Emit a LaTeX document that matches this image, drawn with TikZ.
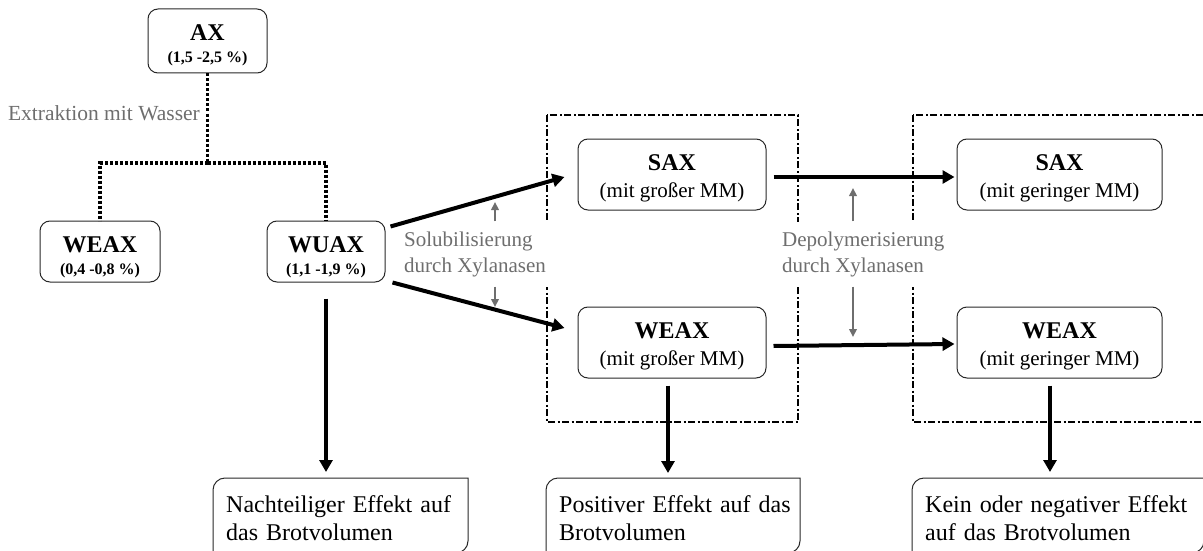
\documentclass[tikz,border=0pt]{standalone}
\usepackage{fontspec}
\setmainfont{Liberation Serif}
\usetikzlibrary{arrows.meta}
\definecolor{lblgray}{RGB}{110,110,110}
\definecolor{bord}{RGB}{40,40,40}
\newcommand{\rdcbox}[4]{% left, top, right, bottom
  \draw[bline] (#1,#4) -- (#1,#2+12) .. controls (#1,#2+5.4) and (#1+5.4,#2) .. (#1+12,#2)
    -- (#3,#2) -- (#3,#4-12) .. controls (#3,#4-5.4) and (#3-5.4,#4) .. (#3-12,#4) -- cycle;}
\begin{document}
\begin{tikzpicture}[x=1pt,y=-1pt,
  box/.style={draw=bord, line width=1pt, rounded corners=10pt, inner sep=0pt, align=center},
  bline/.style={draw=bord, line width=1pt},
  bigarrow/.style={line width=4pt, -{Triangle[length=12pt,width=13pt]}},
  smallarrow/.style={draw=lblgray, line width=2pt, -{Triangle[length=8pt,width=7.5pt]}},
  dotline/.style={line width=3.4pt, dash pattern=on 3pt off 2pt},
  grp/.style={line width=1.4pt, dash pattern=on 7pt off 2.5pt on 2pt off 2.5pt},
  graylbl/.style={text=lblgray, font=\fontsize{21pt}{26pt}\selectfont, fill=white, inner xsep=3pt, inner ysep=0pt, align=left},
  midbox/.style={box, minimum height=71pt, font=\fontsize{21pt}{27pt}\selectfont},
  smallbox/.style={box, font=\fontsize{16pt}{22pt}\selectfont\bfseries},
  effbox/.style={anchor=north west, inner xsep=13pt, inner ysep=0pt, minimum height=79pt, align=left, font=\fontsize{24pt}{28pt}\selectfont},
]
\useasboundingbox (0,0) rectangle (1203,551);
\clip (0,0) rectangle (1203,551);

% group frames
\draw[grp] (547,115) rectangle (798,422);
\draw[grp] (913,115) rectangle (1220,422);

% labels (white background breaks the frames)
\node[graylbl, anchor=west, minimum height=65pt] (sol) at (401,254) {Solubilisierung\\durch Xylanasen};
\node[graylbl, anchor=west, minimum height=65pt] (dep) at (779,254) {Depolymerisierung\\durch Xylanasen};

% top boxes
\node[smallbox, minimum width=119pt, minimum height=64pt] (AX) at (207.5,41) {\rule{0pt}{25pt}{\fontsize{24pt}{22pt}\selectfont AX}\\(1,5 -2,5 \%)};
\node[smallbox, minimum width=120pt, minimum height=61pt] (WEAX) at (100,251.5) {\rule{0pt}{28pt}{\fontsize{24pt}{22pt}\selectfont WEAX}\\(0,4 -0,8 \%)};
\node[smallbox, minimum width=118pt, minimum height=61pt] (WUAX) at (326,251.5) {\rule{0pt}{28pt}{\fontsize{24pt}{22pt}\selectfont WUAX}\\(1,1 -1,9 \%)};

% middle boxes
\node[midbox, minimum width=188pt] (SAXm) at (672,174.5) {\rule{0pt}{24pt}{\fontsize{24pt}{27pt}\selectfont\bfseries SAX}\\(mit großer MM)};
\node[midbox, minimum width=188pt] (WEAXm) at (672,342.5) {\rule{0pt}{24pt}{\fontsize{24pt}{27pt}\selectfont\bfseries WEAX}\\(mit großer MM)};
\node[midbox, minimum width=205pt] (SAXr) at (1059.5,174.5) {\rule{0pt}{24pt}{\fontsize{24pt}{27pt}\selectfont\bfseries SAX}\\(mit geringer MM)};
\node[midbox, minimum width=205pt] (WEAXr) at (1059.5,342.5) {\rule{0pt}{24pt}{\fontsize{24pt}{27pt}\selectfont\bfseries WEAX}\\(mit geringer MM)};

% effect boxes
\rdcbox{213}{478}{468}{553}
\rdcbox{546}{478}{800}{553}
\rdcbox{912}{478}{1204}{553}
\node[effbox, text width=240pt] (Nb) at (213,478) {Nachteiliger Effekt auf\\das Brotvolumen};
\node[effbox, text width=240pt] (Pb) at (546,478) {Positiver Effekt auf das\\Brotvolumen};
\node[effbox, text width=270pt] (Kb) at (912,478) {Kein oder negativer Effekt\\auf das Brotvolumen};

% extraction
\coordinate (split) at (207.5,163);
\draw[dotline] (AX.south) -- (split);
\draw[dotline] (split) -| (WEAX.north);
\draw[dotline] (split) -| (WUAX.north);
\node[text=lblgray, font=\fontsize{21.5pt}{24pt}\selectfont, anchor=east, inner sep=0pt] (ext) at (200,113) {Extraktion mit Wasser};

% solubilisation arrows
\draw[bigarrow] ([xshift=5pt,yshift=-6pt]WUAX.north east) -- ([xshift=-13pt,yshift=-2.5pt]SAXm.west);
\draw[bigarrow] ([xshift=7pt]WUAX.south east) -- ([xshift=-13pt,yshift=14.5pt]WEAXm.west);

% depolymerisation arrows
\draw[bigarrow] ([xshift=7pt,yshift=-2.5pt]SAXm.east) -- ([xshift=-2pt,yshift=-2.5pt]SAXr.west);
\draw[bigarrow] ([xshift=7pt,yshift=-3.5pt]WEAXm.east) -- ([xshift=-2pt,yshift=-1.5pt]WEAXr.west);

% gray arrows from labels
\coordinate (s1) at (495,202);
\coordinate (s2) at (495,307);
\coordinate (d1) at (853,188);
\coordinate (d2) at (853,337);
\draw[smallarrow] (sol.north -| s1) -- (s1);
\draw[smallarrow] (sol.south -| s2) -- (s2);
\draw[smallarrow] (dep.north -| d1) -- (d1);
\draw[smallarrow] (dep.south -| d2) -- (d2);

% effect arrows
\coordinate (e1) at ([yshift=-16pt]WUAX.south);
\coordinate (e2) at ([xshift=-4pt,yshift=-7pt]WEAXm.south);
\coordinate (e3) at ([xshift=-9.5pt,yshift=-7pt]WEAXr.south);
\draw[bigarrow, shorten >=6pt] (e1) -- (e1 |- Nb.north);
\draw[bigarrow, shorten >=5pt] (e2) -- (e2 |- Pb.north);
\draw[bigarrow, shorten >=6pt] (e3) -- (e3 |- Kb.north);
\end{tikzpicture}
\end{document}
